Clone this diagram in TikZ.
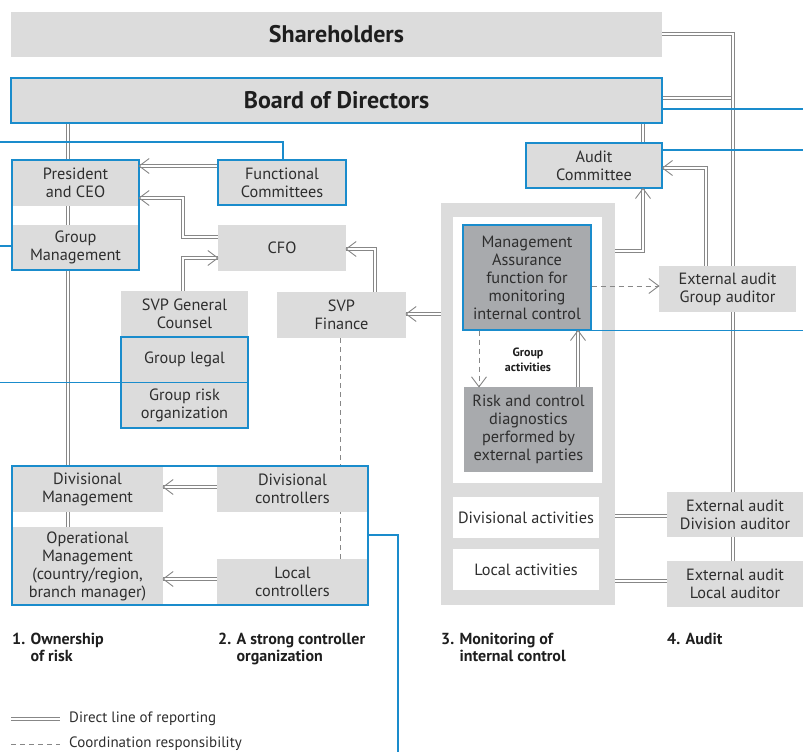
\documentclass[tikz,border=0pt]{standalone}
\usepackage{fontspec}
\setmainfont{PT Sans}
\usetikzlibrary{calc}
\definecolor{lg}{HTML}{DCDCDC}
\definecolor{dg}{HTML}{A8AAAD}
\definecolor{bl}{HTML}{1A8CCC}
\definecolor{ln}{HTML}{878787}
\definecolor{tx}{HTML}{2E2E2E}
\definecolor{tb}{HTML}{1E1E1E}
\pgfdeclarelayer{bg}
\pgfsetlayers{bg,main}
\tikzset{
  sz/.style 2 args={minimum width=#1, minimum height=#2},
  box/.style={fill=lg, inner sep=0pt, align=center, text=tx, font=\fontsize{16.3}{18}\selectfont},
  bbox/.style={box, draw=bl, line width=1.1pt},
  bframe/.style={draw=bl, line width=1.1pt, inner sep=0pt},
  dl/.style={draw=ln, line width=0.9pt, double=white, double distance=1.7pt},
  dsh/.style={draw=ln, line width=0.9pt, dash pattern=on 5pt off 4pt},
  tipst/.style={draw=ln, line width=0.9pt},
  bll/.style={draw=bl, line width=1.1pt},
  foot/.style={font=\bfseries\fontsize{16}{17}\selectfont, text=tb, align=left, inner sep=0pt},
  leg/.style={font=\fontsize{15}{17}\selectfont, text=tx, inner sep=0pt},
  title/.style={font=\bfseries\fontsize{24}{26}\selectfont, text=tb}
}
\newcommand\tipL[1]{\draw[tipst] ($(#1)+(10,-7.5)$) -- (#1) -- ($(#1)+(10,7.5)$);}
\newcommand\tipR[1]{\draw[tipst] ($(#1)+(-10,-7.5)$) -- (#1) -- ($(#1)+(-10,7.5)$);}
\newcommand\tipU[1]{\draw[tipst] ($(#1)+(-7.5,10)$) -- (#1) -- ($(#1)+(7.5,10)$);}
\newcommand\tipD[1]{\draw[tipst] ($(#1)+(-7.5,-10)$) -- (#1) -- ($(#1)+(7.5,-10)$);}
\begin{document}
\begin{tikzpicture}[x=1pt,y=-1pt]
\useasboundingbox (0,0) rectangle (803,752);
% monitoring frame
\node[fill=lg, sz={174}{402}, inner sep=0pt] (frame) at (528,404) {};
\node[fill=white, sz={149}{266}, inner sep=0pt] (inw) at (527.5,350) {};
% top
\node[box, sz={651}{45}, title] (sh) at (336.5,34.5) {Shareholders};
\node[bbox, sz={651}{45}, title] (bod) at (336.5,100.5) {Board of Directors};
% column 1/2
\node[box, sz={127}{46}] (pres) at (75.5,183) {President\\and CEO};
\node[box, sz={127}{45}] (gm) at (75.5,247.5) {Group\\Management};
\node[bframe, sz={127}{110}] (presg) at (75.5,215) {};
\node[bbox, sz={128}{45}] (fc) at (282,182.5) {Functional\\Committees};
\node[box, sz={128}{46}] (cfo) at (282,248) {CFO};
\node[box, sz={127}{46}] (svpgc) at (184.5,314) {SVP General\\Counsel};
\node[box, sz={127}{45}] (gl) at (184.5,359.5) {Group legal};
\node[box, sz={127}{46}] (gr) at (184.5,405) {Group risk\\organization};
\node[bframe, sz={127}{91}] (glr) at (184.5,382.5) {};
\draw[bll] (glr.west) -- (glr.east);
\node[box, sz={129}{46}] (svpf) at (341.5,315) {SVP\\Finance};
\node[box, sz={151}{46}] (dm) at (87.5,489) {Divisional\\Management};
\node[box, sz={151}{78}] (om) at (87.5,566) {Operational\\Management\\(country/region,\\branch manager)};
\node[box, sz={151}{46}] (dc) at (292.5,489) {Divisional\\controllers};
\node[box, sz={151}{46}] (lc) at (292.5,582) {Local\\controllers};
\node[bframe, sz={356}{139}] (divb) at (190,535.5) {};
% column 3
\node[bbox, fill=dg, sz={128}{105}] (ma) at (527,277.5) {Management\\Assurance\\function for\\monitoring\\internal control};
\node[box, fill=dg, sz={129}{85}] (rc) at (528.5,429.5) {Risk and control\\diagnostics\\performed by\\external parties};
\node[box, fill=white, sz={146}{41}] (da) at (526,517.5) {Divisional activities};
\node[box, fill=white, sz={146}{41}] (la) at (526,569.5) {Local activities};
\node[font=\bfseries\fontsize{12}{15}\selectfont, text=tb, align=center, inner sep=0pt] (ga) at (528,359.5) {Group\\activities};
% column 4
\node[bbox, sz={136}{45}] (ac) at (594,165.5) {Audit\\Committee};
\node[box, sz={137}{46}] (ega) at (727.5,289) {External audit\\Group auditor};
\node[box, sz={136}{45}] (eda) at (735,514.5) {External audit\\Division auditor};
\node[box, sz={136}{46}] (ela) at (735,584) {External audit\\Local auditor};
% footer
\node[foot, anchor=north west] (ft1) at (12,633) {1. Ownership\\\hphantom{1. }of risk};
\node[foot, anchor=north west] (ft2) at (218,633) {2. A strong controller\\\hphantom{2. }organization};
\node[foot, anchor=north west] (ft3) at (441,633) {3. Monitoring of\\\hphantom{3. }internal control};
\node[foot, anchor=north west] (ft4) at (667,633) {4. Audit};
% legend
\coordinate (l1a) at (11,719); \coordinate (l1b) at (60,719);
\coordinate (l2a) at (11,744); \coordinate (l2b) at (60,744);
\draw[dl] (l1a) -- (l1b);
\draw[dsh] (l2a) -- (l2b);
\node[leg, anchor=west] (lt1) at (69,719) {Direct line of reporting};
\node[leg, anchor=west] (lt2) at (69,744) {Coordination responsibility};
% coordinates
\coordinate (spine) at (68,0);
\coordinate (a0) at (fc.west |- 0,166); \coordinate (a1) at (pres.east |- 0,166);
\coordinate (b0) at (cfo.west |- 0,237); \coordinate (b1) at (183,237);
\coordinate (b2) at (183,198); \coordinate (b3) at (pres.east |- 0,198);
\coordinate (c0) at (svpgc.north -| 183,0); \coordinate (c1) at (183,258);
\coordinate (c2) at (cfo.west |- 0,258);
\coordinate (d0) at (svpf.north -| 375,0); \coordinate (d1) at (375,249);
\coordinate (d2) at (cfo.east |- 0,249);
\coordinate (e0) at (frame.west |- 0,314); \coordinate (e1) at (svpf.east |- 0,314);
\coordinate (f0) at (frame.east |- 0,251); \coordinate (f1) at (643,251);
\coordinate (f2) at (ac.south -| 643,0);
\coordinate (g0) at (bod.south -| 643,0); \coordinate (g1) at (ac.north -| 643,0);
\coordinate (h0) at (ma.east |- 0,286); \coordinate (h1) at (ega.west |- 0,286);
\coordinate (i0) at (ega.north -| 706,0); \coordinate (i1) at (706,168);
\coordinate (i2) at (ac.east |- 0,168);
\coordinate (j0) at (sh.east |- 0,34); \coordinate (j1) at (733,34);
\coordinate (j2) at (eda.north -| 733,0);
\coordinate (k0) at (bod.east |- 0,98); \coordinate (k1) at (733,98);
\coordinate (m0) at (frame.east |- 0,516); \coordinate (m1) at (eda.west |- 0,516);
\coordinate (n0) at (frame.east |- 0,581); \coordinate (n1) at (ela.west |- 0,581);
\coordinate (o0) at (dc.west |- 0,487); \coordinate (o1) at (dm.east |- 0,487);
\coordinate (p0) at (lc.west |- 0,579); \coordinate (p1) at (om.east |- 0,579);
\coordinate (q0) at (svpf.south -| 340,0); \coordinate (q1) at (lc.north -| 340,0);
\coordinate (r0) at (ma.south -| 479,0); \coordinate (r1) at (rc.north -| 479,0);
\coordinate (s0) at (rc.north -| 578,0); \coordinate (s1) at (ma.south -| 578,0);
\begin{pgfonlayer}{bg}
\draw[dl] (bod.south -| spine) -- (om.north -| spine);
\draw[dl] (a0) -- (a1);
\draw[dl] (b0) -- (b1) -- (b2) -- (b3);
\draw[dl] (c0) -- (c1) -- (c2);
\draw[dl] (d0) -- (d1) -- (d2);
\draw[dl] (e0) -- (e1);
\draw[dl] (f0) -- (f1) -- (f2);
\draw[dl] (g0) -- (g1);
\draw[dl] (i0) -- (i1) -- (i2);
\draw[dl] (k0) -- (k1);
\draw[dl] (j0) -- (j1) -- (j2);
\draw[dl] (eda.south -| j1) -- (ela.north -| j1);
\draw[dl] (m0) -- (m1);
\draw[dl] (n0) -- (n1);
\draw[dl] (o0) -- (o1);
\draw[dl] (p0) -- (p1);
\draw[dsh] (q0) -- (q1);
\end{pgfonlayer}
\draw[dsh] (h0) -- (h1);
\draw[dsh] (r0) -- (r1);
\draw[dl] (s0) -- (s1);
% blue lines
\coordinate (w1) at (0,142); \coordinate (w2) at (283,142);
\coordinate (w3) at (0,246); \coordinate (w4) at (0,382.5);
\coordinate (x1) at (803,109); \coordinate (x2) at (803,150);
\coordinate (x3) at (803,330); \coordinate (x4) at (398,535);
\coordinate (x5) at (398,752);
\draw[bll] (w1) -- (w2) -- (fc.north -| w2);
\draw[bll] (w3) -- (presg.west |- w3);
\draw[bll] (w4) -- (glr.west |- w4);
\draw[bll] (bod.east |- x1) -- (x1);
\draw[bll] (ac.east |- x2) -- (x2);
\draw[bll] (ma.south east) -- (x3 |- ma.south east);
\draw[bll] (divb.east |- x4) -- (x4) -- (x5);
% arrow tips
\tipL{a1} \tipL{b3} \tipR{c2} \tipL{d2} \tipL{e1} \tipU{f2}
\tipR{h1} \tipL{i2} \tipL{o1} \tipL{p1} \tipD{r1} \tipU{s1}
\end{tikzpicture}
\end{document}
